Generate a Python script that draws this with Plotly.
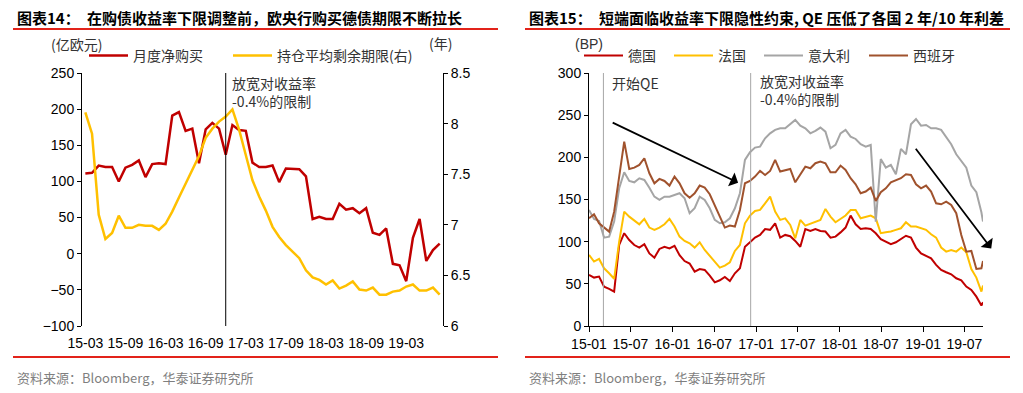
import plotly.graph_objects as go

W, H = 1023, 393
def px(x): return x / W
def py(y): return 1 - y / H

# ---------------- Left chart data (monthly) ----------------
months = ["15-03","15-04","15-05","15-06","15-07","15-08","15-09","15-10","15-11","15-12",
          "16-01","16-02","16-03","16-04","16-05","16-06","16-07","16-08","16-09","16-10","16-11","16-12",
          "17-01","17-02","17-03","17-04","17-05","17-06","17-07","17-08","17-09","17-10","17-11","17-12",
          "18-01","18-02","18-03","18-04","18-05","18-06","18-07","18-08","18-09","18-10","18-11","18-12",
          "19-01","19-02","19-03","19-04","19-05","19-06","19-07","19-08"]
month_ticks = ["15-03","15-09","16-03","16-09","17-03","17-09","18-03","18-09","19-03"]
net_purchase = [111,112,122,120,120,100,119,123,129,106,124,125,124,191,196,170,173,125,172,181,173,137,
                178,171,170,126,120,120,122,99,118,117,117,107,48,51,48,48,69,61,63,56,63,29,26,35,
                -14,-16,-38,22,48,-10,5,14]
avg_maturity = [8.11,7.90,7.10,6.86,6.92,7.09,6.97,6.97,7.00,6.99,6.99,6.95,7.01,7.13,7.27,7.41,7.54,7.68,
                7.86,7.95,8.02,8.07,8.14,7.94,7.69,7.44,7.28,7.14,6.98,6.88,6.80,6.74,6.67,6.55,6.48,6.455,
                6.41,6.45,6.37,6.40,6.44,6.36,6.35,6.38,6.31,6.31,6.34,6.35,6.39,6.41,6.35,6.35,6.38,6.31]
event_month = "16-12"

# ---------------- Right chart data (2y/10y spreads, bp) ----------------
spread_dates = ["2015-01-01","2015-01-23","2015-02-14","2015-03-08","2015-03-30","2015-04-21","2015-05-13",
    "2015-06-04","2015-06-26","2015-07-18","2015-08-09","2015-08-31","2015-09-22","2015-10-14","2015-11-05",
    "2015-11-27","2015-12-19","2016-01-10","2016-02-01","2016-02-23","2016-03-16","2016-04-07","2016-04-29",
    "2016-05-21","2016-06-12","2016-07-04","2016-07-26","2016-08-17","2016-09-08","2016-09-30","2016-10-22",
    "2016-11-13","2016-12-05","2016-12-27","2017-01-18","2017-02-09","2017-03-03","2017-03-25","2017-04-16",
    "2017-05-08","2017-05-30","2017-06-21","2017-07-13","2017-08-04","2017-08-26","2017-09-17","2017-10-09",
    "2017-10-31","2017-11-22","2017-12-14","2018-01-05","2018-01-27","2018-02-18","2018-03-12","2018-04-03",
    "2018-04-25","2018-05-17","2018-06-08","2018-06-30","2018-07-22","2018-08-13","2018-09-04","2018-09-26",
    "2018-10-18","2018-11-09","2018-12-01","2018-12-23","2019-01-14","2019-02-05","2019-02-27","2019-03-21",
    "2019-04-12","2019-05-04","2019-05-26","2019-06-17","2019-07-09","2019-07-31","2019-08-22","2019-09-13",
    "2019-09-20"]
germany = [60.5,57.4,58.6,46.7,44,40.8,96.1,110,102,96,
           93,97,86,81,91.4,94,92,95,84,77,
           74,64.5,67.6,66.5,59.7,51.8,54.2,58.2,53.4,62.5,
           68.4,94,99.3,104.8,108,115,114,121.8,104.8,108,
           106.4,100.9,94,115,112.7,115,112.7,112,104.8,106,
           111,116.7,131,120.6,115,115.9,115,110,103,100,
           97,99.3,103,107,104.8,93,86,83.5,80.3,72.4,
           66.5,63.7,61.3,56.6,54.2,46.7,42.7,34.8,24.2,28.1]
france = [84.3,76.4,79.5,68.4,62.5,56,100,135.6,129.7,124.6,
          120.6,127,116.7,114,116.7,120.6,127,117.9,106,100.9,
          98.1,93,99.3,90.2,83.5,75.6,69.2,71.6,75.6,89,
          96.1,121.8,130.9,136.4,137.6,145.5,153.4,135.6,125.8,127.7,
          119.8,104,125.8,119,121.4,123.8,125.8,138.8,129.7,123,
          127,131,137.6,137.6,127.7,129.7,131,127.7,110,111.1,
          112,114,115.9,123,117.9,117.9,115.9,114,108.8,104.8,
          93,88.2,90.2,88.2,93,87.4,67.6,57.4,40.8,47.9]
italy = [137.6,127,124.6,104.8,106,123.8,163.3,182.3,172,170.4,
         175.2,173.2,164,153.4,149.5,153.4,153.4,155.4,157.4,151.5,
         133.7,139.6,153.4,149.5,139.6,125.8,121.8,123,127.7,139.6,
         157.4,196.9,206,211.5,212.7,222.6,228.5,232.5,234.5,234.5,
         240,244.4,237.6,234.5,228.5,231.3,235.3,230.5,210.8,214.7,
         228.5,232.5,224.6,221.8,215.5,212.7,214.7,123.8,198,187.8,
         191,180,210,203.6,239.2,245.5,237.6,238.4,234.5,234.5,
         232.5,223.4,215.5,203.6,195,187.8,166.5,158.6,134.9,123.8]
spain = [127.7,132.5,121.8,116.7,111.9,135.6,179.9,218.7,186.2,187.8,
         191,198.9,181.1,169.2,174.4,172,166.5,177.2,169.2,157.4,
         152.2,157.4,166.5,164.1,156.2,142.8,129.7,116.7,119,117.9,
         137.6,169.2,172,177.2,183.9,179.1,183.9,196.9,183.1,185.1,
         186.2,170.4,179.1,189,187,193,195,193,182.3,182.3,
         190.2,185.1,175.2,168.1,157.4,159.4,164.1,148.3,158.6,163.3,
         170.4,173.2,175.2,179.9,179.1,168.1,163.3,166.5,159.4,145.5,
         144.3,147.5,143.5,133.7,108,88.2,89,67.6,68.4,77.1]
qe_start = "2015-03-05"
floor_change = "2016-12-08"

RED = "#C00000"; GOLD = "#FFC000"; GRAY = "#A5A5A5"; BROWN = "#A0522D"
SEP = "#E2231A"
FONT = "Liberation Sans, Noto Sans CJK SC, sans-serif"
CJK = "Noto Sans CJK SC, Liberation Sans, sans-serif"

fig = go.Figure()

fig.add_trace(go.Scatter(x=months, y=net_purchase, name="月度净购买", mode="lines",
                         line=dict(color=RED, width=2.5), xaxis="x", yaxis="y", legend="legend"))
fig.add_trace(go.Scatter(x=months, y=avg_maturity, name="持仓平均剩余期限(右)", mode="lines",
                         line=dict(color=GOLD, width=2.5), xaxis="x", yaxis="y2", legend="legend2"))

right_series = [("德国", germany, RED, 579), ("法国", france, GOLD, 669),
                ("意大利", italy, GRAY, 759), ("西班牙", spain, BROWN, 864)]
for i, (name, vals, col, _) in enumerate(right_series):
    fig.add_trace(go.Scatter(x=spread_dates, y=vals, name=name, mode="lines",
                             line=dict(color=col, width=2), xaxis="x2", yaxis="y3",
                             legend="legend%d" % (i + 3)))

tickfont = dict(family=FONT, size=14, color="black")
ldom = [px(82), px(443)]
rdom = [px(589), px(983)]
ydom = [py(326), py(73)]
zero_pos = ydom[0] + (0 - (-100)) / 350 * (ydom[1] - ydom[0])

def legend_at(x0):
    return dict(orientation="h", x=px(x0), y=py(56), xanchor="left", yanchor="middle",
                font=dict(family=CJK, size=14, color="#333333"), itemwidth=39,
                bgcolor="rgba(0,0,0,0)", borderwidth=0)

layout_legends = {"legend": legend_at(84), "legend2": legend_at(228)}
for i, (_, _, _, x0) in enumerate(right_series):
    layout_legends["legend%d" % (i + 3)] = legend_at(x0)

fig.update_layout(
    width=W, height=H, autosize=False,
    margin=dict(l=0, r=0, t=0, b=0, pad=0, autoexpand=False),
    paper_bgcolor="white", plot_bgcolor="white",
    font=dict(family=FONT, size=14, color="black"),
    xaxis=dict(domain=ldom, anchor="y", type="category", categoryorder="array",
               categoryarray=months, range=[-0.5, len(months) - 0.5],
               tickmode="array", tickvals=month_ticks, ticktext=month_ticks,
               ticks="outside", ticklen=4, tickcolor="rgba(0,0,0,0)",
               showline=False, showgrid=False, zeroline=False, tickfont=tickfont),
    xaxis3=dict(overlaying="x", anchor="free", position=zero_pos,
                range=[-0.5, len(months) - 0.5],
                tickmode="array", tickvals=[i - 0.5 for i in range(0, len(months) + 1, 6)],
                ticks="outside", ticklen=5, tickcolor="black", showticklabels=False,
                showline=True, linecolor="black", linewidth=1, showgrid=False, zeroline=False),
    yaxis=dict(domain=ydom, anchor="x", range=[-100, 250], dtick=50,
               ticks="outside", ticklen=4, tickcolor="black",
               showline=True, linecolor="black", linewidth=1,
               showgrid=False, zeroline=False, tickfont=tickfont),
    yaxis2=dict(overlaying="y", anchor="x", side="right", range=[6, 8.5], dtick=0.5,
                ticks="outside", ticklen=4, tickcolor="black",
                showline=True, linecolor="black", linewidth=1,
                showgrid=False, zeroline=False, tickfont=tickfont),
    xaxis2=dict(domain=rdom, anchor="y3", type="date",
                range=["2015-01-01", "2019-09-20"], tick0="2015-01-01", dtick="M6",
                tickformat="%y-%m", ticks="outside", ticklen=5, tickcolor="black",
                showline=True, linecolor="black", linewidth=1,
                showgrid=False, zeroline=False, tickfont=tickfont),
    yaxis3=dict(domain=ydom, anchor="x2", range=[0, 300], dtick=50,
                ticks="outside", ticklen=4, tickcolor="black",
                showline=True, linecolor="black", linewidth=1,
                showgrid=False, zeroline=False, tickfont=tickfont),
    showlegend=True,
    **layout_legends,
)

shapes = []
for x0, x1 in [(13, 498), (525, 1010)]:
    for yy in (29, 357):
        shapes.append(dict(type="line", xref="paper", yref="paper", x0=px(x0), x1=px(x1),
                           y0=py(yy), y1=py(yy), line=dict(color=SEP, width=2)))
shapes.append(dict(type="line", xref="x", yref="y", x0=months.index(event_month),
                   x1=months.index(event_month), y0=-100, y1=250, line=dict(color="black", width=1)))
for d in (qe_start, floor_change):
    shapes.append(dict(type="line", xref="x2", yref="y3", x0=d, x1=d, y0=0, y1=300,
                       line=dict(color="#A6A6A6", width=1)))
fig.update_layout(shapes=shapes)

ann = []
def text(x, y, s, size=14, color="#333333", family=CJK, xanchor="left", bold=False):
    if bold:
        s = "<b>" + s + "</b>"
    ann.append(dict(xref="paper", yref="paper", x=px(x), y=py(y), text=s, showarrow=False,
                    xanchor=xanchor, yanchor="middle", align="left",
                    font=dict(family=family, size=size, color=color)))

text(15, 17, "图表14：", size=15, color="black", bold=True)
text(85, 17, "在购债收益率下限调整前，欧央行购买德债期限不断拉长", size=15, color="black", bold=True)
text(527, 17, "图表15：", size=15, color="black", bold=True)
text(597, 17, "短端面临收益率下限隐性约束, QE 压低了各国 2 年/10 年利差", size=15, color="black", bold=True)
text(49, 44, "(亿欧元)", size=14)
text(427, 43, "(年)", size=14)
text(573, 44, "(BP)", size=14, family=FONT)
text(230, 91.5, "放宽对收益率<br>-0.4%的限制", size=14)
text(610, 83, "开始QE", size=14)
text(758, 90, "放宽对收益率<br>-0.4%的限制", size=14)
text(15, 377, "资料来源：Bloomberg，华泰证券研究所", size=13, color="#7F7F7F")
text(527, 377, "资料来源：Bloomberg，华泰证券研究所", size=13, color="#7F7F7F")

for (tx, ty, hx, hy) in [("2015-04-08", 242, "2016-10-14", 170),
                         ("2018-11-25", 212, "2019-10-26", 92)]:
    ann.append(dict(xref="x2", yref="y3", axref="x2", ayref="y3", x=hx, y=hy, ax=tx, ay=ty,
                    text="", showarrow=True, arrowhead=1, arrowsize=1.4, arrowwidth=1.8,
                    arrowcolor="black"))
fig.update_layout(annotations=ann)

fig.write_html("out.html", config={"displayModeBar": False},
               post_script="document.body.style.margin='0px';")
